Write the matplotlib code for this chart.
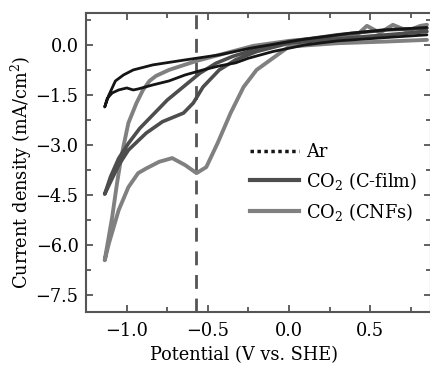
import matplotlib
matplotlib.use("Agg")
import matplotlib.pyplot as plt
from matplotlib.lines import Line2D

plt.rcParams['font.family'] = ['DejaVu Serif']
plt.rcParams['mathtext.fontset'] = 'dejavuserif'

# cyclic voltammograms, potential (V vs. SHE) / current density (mA/cm2)
ar_v = [0.85, 0.6, 0.3, 0.1, -0.1, -0.25, -0.33, -0.43, -0.53, -0.64, -0.74, -0.84,
        -0.93, -0.96, -1.0, -1.05, -1.09, -1.12, -1.136,
        -1.11, -1.07, -1.02, -0.96, -0.84, -0.64, -0.43, -0.24, 0.07, 0.38, 0.6, 0.85]
ar_j = [0.3, 0.22, 0.12, 0.0, -0.2, -0.4, -0.54, -0.63, -0.75, -0.9, -1.08, -1.2,
        -1.32, -1.35, -1.29, -1.35, -1.44, -1.6, -1.86,
        -1.5, -1.08, -0.9, -0.75, -0.6, -0.45, -0.3, -0.1, 0.15, 0.35, 0.45, 0.52]

cfilm_v = [0.85, 0.6, 0.3, 0.0, -0.2, -0.33, -0.43, -0.53, -0.59, -0.65, -0.72, -0.78,
           -0.88, -0.99, -1.05, -1.10, -1.136,
           -1.10, -1.05, -0.99, -0.92, -0.84, -0.75, -0.65, -0.55, -0.45, -0.35,
           -0.2, 0.0, 0.3, 0.6, 0.85]
cfilm_j = [0.4, 0.3, 0.18, 0.05, -0.2, -0.45, -0.75, -1.26, -1.74, -2.04, -2.18, -2.3,
           -2.64, -3.15, -3.6, -4.1, -4.47,
           -3.95, -3.4, -2.95, -2.5, -2.1, -1.65, -1.25, -0.85, -0.55, -0.35,
           -0.12, 0.1, 0.3, 0.45, 0.5]

cnf_v = [0.85, 0.6, 0.3, 0.0, -0.1, -0.2, -0.28, -0.36, -0.44, -0.51, -0.57, -0.64,
         -0.72, -0.80, -0.88, -0.93, -0.99, -1.05, -1.11, -1.136,
         -1.09, -1.06, -1.04, -1.02, -0.99, -0.94, -0.90, -0.86, -0.82, -0.74,
         -0.57, -0.43, -0.22, 0.0, 0.3, 0.42, 0.48, 0.56, 0.64, 0.73, 0.81, 0.85]
cnf_j = [0.15, 0.1, 0.05, -0.05, -0.4, -0.75, -1.26, -2.04, -2.94, -3.66, -3.84, -3.6,
         -3.39, -3.5, -3.7, -3.84, -4.26, -4.95, -5.94, -6.45,
         -5.16, -4.14, -3.54, -3.03, -2.34, -1.74, -1.35, -1.08, -0.93, -0.75,
         -0.48, -0.3, -0.03, 0.12, 0.25, 0.3, 0.57, 0.36, 0.6, 0.42, 0.57, 0.6]

ref_potential = -0.575

xticks = [-1.0, -0.5, 0.0, 0.5]
xlabels = ['\u22121.0', '\u22120.5', '0.0', '0.5']
yticks = [0.0, -1.5, -3.0, -4.5, -6.0, -7.5]
ylabels = ['0.0', '\u22121.5', '\u22123.0', '\u22124.5', '\u22126.0', '\u22127.5']

fs = 12.8

fig = plt.figure(figsize=(4.31, 3.65), dpi=100)
ax = fig.add_axes([0.2, 0.145, 0.80, 0.819])

ax.axvline(ref_potential, color='#555555', lw=2, dashes=(5, 3.5))
ax.plot(cnf_v, cnf_j, color='#808080', lw=2.8, solid_capstyle='round')
ax.plot(cfilm_v, cfilm_j, color='#4d4d4d', lw=2.6, solid_capstyle='round')
ax.plot(ar_v, ar_j, color='#151515', lw=2.0, solid_capstyle='round')

ax.set_xlim(-1.25, 0.875)
ax.set_ylim(-8.0, 0.95)
ax.set_xticks(xticks)
ax.set_xticklabels(xlabels)
ax.set_yticks(yticks)
ax.set_yticklabels(ylabels)
ax.set_xticks([-1.25, -0.75, -0.25, 0.25, 0.75], minor=True)
ax.set_yticks([0.75, -0.75, -2.25, -3.75, -5.25, -6.75], minor=True)
ax.tick_params(which='both', direction='in', top=True, right=True,
               color='#555555', width=1.3, labelsize=fs)
ax.tick_params(which='major', length=5)
ax.tick_params(which='minor', length=3.5)
ax.tick_params(axis='x', pad=7.5)
ax.tick_params(axis='y', pad=5.5)
for s in ax.spines.values():
    s.set_color('#555555')
    s.set_linewidth(1.5)

ax.set_xlabel('Potential (V vs. SHE)', fontsize=fs)
ax.xaxis.set_label_coords(0.458, -0.115)
ax.set_ylabel('Current density (mA/cm$^2$)', fontsize=fs)
ax.yaxis.set_label_coords(-0.15, 0.468)

handles = [Line2D([], [], color='#151515', lw=2.5, ls=(0, (1, 1))),
           Line2D([], [], color='#4d4d4d', lw=3),
           Line2D([], [], color='#808080', lw=3)]
labels = ['Ar', 'CO$_2$ (C-film)', 'CO$_2$ (CNFs)']
ax.legend(handles, labels, loc='center left', bbox_to_anchor=(0.45, 0.433),
          frameon=False, fontsize=fs, handlelength=2.75, handletextpad=0.4,
          labelspacing=0.5, borderpad=0)

fig.savefig('out.png', dpi=100)
